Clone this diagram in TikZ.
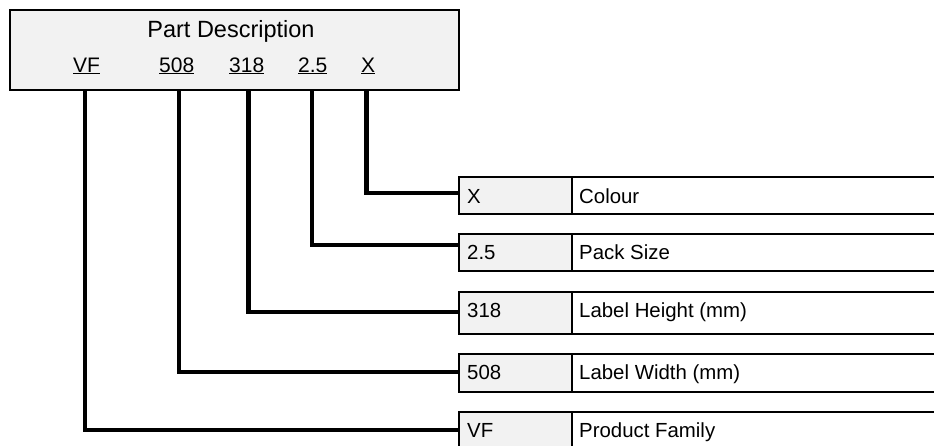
\documentclass[tikz,border=0pt]{standalone}
\usepackage{fontspec}
\setmainfont{Liberation Sans}
\definecolor{cellgray}{HTML}{F2F2F2}
\begin{document}
\begin{tikzpicture}[x=1pt,y=-1pt,
  boxline/.style={draw=black, line width=2pt},
  keycell/.style={boxline, fill=cellgray, anchor=north west, inner sep=0pt, minimum width=113pt},
  valcell/.style={boxline, fill=white, anchor=north west, inner sep=0pt, minimum width=400pt},
  celltext/.style={anchor=base west, inner sep=0pt, font=\fontsize{20.4}{24}\selectfont},
  codetext/.style={anchor=base west, inner sep=0pt, font=\fontsize{21}{25}\selectfont},
  conn/.style={draw=black, line width=4.5pt, line join=miter}]
\useasboundingbox (0,0) rectangle (934,445);
% top box
\node[boxline, fill=cellgray, anchor=north west, inner sep=0pt, minimum width=449pt, minimum height=80pt] (main) at (9,9) {};
\node[anchor=base, inner sep=0pt, font=\fontsize{23.5}{28}\selectfont] (title) at (231,37.7) {Part Description};
\node[codetext] (lVF) at (73,72) {\underline{VF}};
\node[codetext] (lW) at (159,72) {\underline{508}};
\node[codetext] (lH) at (229,72) {\underline{318}};
\node[codetext] (lP) at (298,72) {\underline{2.5}};
\node[codetext] (lX) at (361,72) {\underline{X}};
% rows
\node[keycell, minimum height=37pt] (kX) at (458,176) {};
\node[valcell, minimum height=37pt] (vX) at (571,176) {};
\node[celltext] (tkX) at (467,203) {X};
\node[celltext] (tvX) at (579,203) {Colour};

\node[keycell, minimum height=37pt] (kP) at (458,233) {};
\node[valcell, minimum height=37pt] (vP) at (571,233) {};
\node[celltext] (tkP) at (467,259) {2.5};
\node[celltext] (tvP) at (579,259) {Pack Size};

\node[keycell, minimum height=42pt] (kH) at (458,291) {};
\node[valcell, minimum height=42pt] (vH) at (571,291) {};
\node[celltext] (tkH) at (467,317) {318};
\node[celltext] (tvH) at (579,317) {Label Height (mm)};

\node[keycell, minimum height=38pt] (kW) at (458,353) {};
\node[valcell, minimum height=38pt] (vW) at (571,353) {};
\node[celltext] (tkW) at (467,379) {508};
\node[celltext] (tvW) at (579,379) {Label Width (mm)};

\node[keycell, minimum height=42pt] (kVF) at (458,411) {};
\node[valcell, minimum height=42pt] (vVF) at (571,411) {};
\node[celltext] (tkVF) at (467,437) {VF};
\node[celltext] (tvVF) at (579,437) {Product Family};
% connector end points
\coordinate (sX) at (366.5,90);
\coordinate (sP) at (312,90);
\coordinate (sH) at (248.5,90);
\coordinate (sW) at (179,90);
\coordinate (sVF) at (85,90);
\coordinate (eX) at (kX.west |- 0,193);
\coordinate (eP) at (kP.west |- 0,245);
\coordinate (eH) at (kH.west |- 0,312);
\coordinate (eW) at (kW.west |- 0,372);
\coordinate (eVF) at (kVF.west |- 0,430);
\draw[conn] (sX) |- (eX);
\draw[conn] (sP) |- (eP);
\draw[conn] (sH) |- (eH);
\draw[conn] (sW) |- (eW);
\draw[conn] (sVF) |- (eVF);
\end{tikzpicture}
\end{document}
